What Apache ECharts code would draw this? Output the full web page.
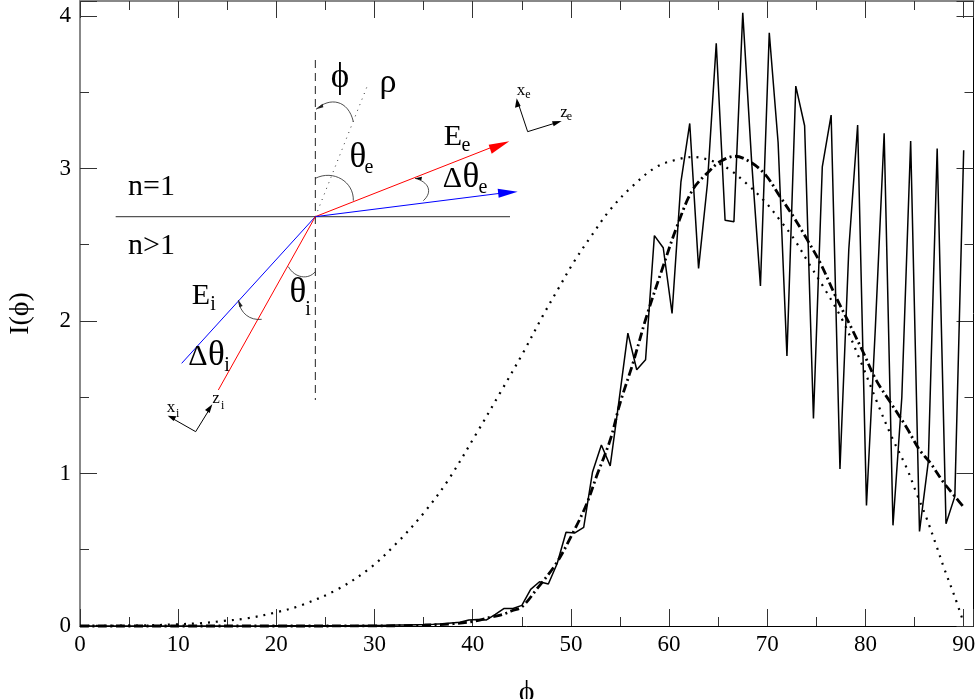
<!DOCTYPE html>
<html>
<head>
<meta charset="utf-8">
<style>html,body{margin:0;padding:0;background:#fff}#c{width:977px;height:699px}</style>
<script src="https://cdn.jsdelivr.net/npm/echarts@6/dist/echarts.min.js"></script>
</head>
<body>
<div id="c"></div>
<script>
const angles = [0,0.9,1.8,2.7,3.6,4.5,5.4,6.3,7.2,8.1,9,9.9,10.8,11.7,12.6,13.5,14.4,15.3,16.2,17.1,18,18.9,19.8,20.7,21.6,22.5,23.4,24.3,25.2,26.1,27,27.9,28.8,29.7,30.6,31.5,32.4,33.3,34.2,35.1,36,36.9,37.8,38.7,39.6,40.5,41.4,42.3,43.2,44.1,45,45.9,46.8,47.7,48.6,49.5,50.4,51.3,52.2,53.1,54,54.9,55.8,56.7,57.6,58.5,59.4,60.3,61.2,62.1,63,63.9,64.8,65.7,66.6,67.5,68.4,69.3,70.2,71.1,72,72.9,73.8,74.7,75.6,76.5,77.4,78.3,79.2,80.1,81,81.9,82.8,83.7,84.6,85.5,86.4,87.3,88.2,89.1,90];
const measured = [0,0,0,0,0,0,0,0,0,0,0,0,0,0,0,0,0,0,0,0,0,0,0.001,0.001,0.001,0.001,0.002,0.002,0.002,0.002,0.002,0.002,0.003,0.003,0.004,0.005,0.006,0.007,0.009,0.01,0.012,0.015,0.02,0.025,0.04,0.043,0.04,0.076,0.115,0.115,0.135,0.24,0.29,0.275,0.41,0.615,0.61,0.647,1.01,1.187,1.05,1.48,1.92,1.68,1.745,2.56,2.48,2.05,2.91,3.295,2.345,2.9,3.82,2.66,2.65,4.02,3.05,2.23,3.89,3.17,1.77,3.54,3.28,1.36,3.01,3.35,1.03,2.47,3.285,0.79,1.95,3.23,0.66,1.5,3.18,0.62,1.08,3.13,0.67,0.85,3.12];
const fitX = [0,10,20,30,35,38,40,42,43,44,45,46.5,48.5,50.2,51.6,52.6,54,55,56.3,57.7,59.4,60.8,62.4,64.2,65.2,66.7,68.2,69.8,71.3,72.7,74,75.4,76.9,78.6,79.8,81.1,82.5,84.2,85.5,86.6,87.9,89.1,90];
const fitY = [0,0,0,0.001,0.005,0.015,0.03,0.06,0.075,0.1,0.125,0.24,0.41,0.61,0.8,0.98,1.22,1.46,1.72,2.03,2.36,2.62,2.86,2.99,3.045,3.08,3.045,2.96,2.815,2.68,2.54,2.38,2.17,1.95,1.79,1.61,1.47,1.3,1.155,1.07,0.946,0.85,0.78];
const modelX = [0,6.8,9.85,12.2,14.6,17,20,22.4,26.1,29.5,32.4,35.06,37.5,40.4,42.8,45.2,47.1,48.7,50.3,52.1,54,56.2,58.7,60.9,62.4,64.8,66.2,67.9,69.8,71.3,72.7,74.3,75.7,77.7,79.6,81.1,82.6,84.2,85.2,86.2,87.2,88,89.1,90];
const modelY = [0,0.004,0.011,0.018,0.033,0.05,0.09,0.133,0.236,0.378,0.553,0.745,0.957,1.265,1.53,1.8,2.03,2.21,2.387,2.56,2.73,2.88,3.01,3.06,3.075,3.04,2.99,2.9,2.78,2.66,2.54,2.37,2.225,2,1.72,1.48,1.25,1.035,0.87,0.71,0.53,0.38,0.19,0.02];
const xTicks = {min:0,max:91,interval:10,minorCount:2};
const yTicks = {min:0,max:4.098,interval:1,minorCount:2};
const SERIF = '"Liberation Serif","Times New Roman",serif';
const zip = (a,b)=>a.map((v,i)=>[v,b[i]]);
const chart = echarts.init(document.getElementById('c'),null,{renderer:'canvas'});

// inset diagram: coordinates measured in page pixels
const P = (x,y)=>[100+x/3,50+y/3];
function seg(a,b,stroke,lineWidth,dash){const p=P(a[0],a[1]),q=P(b[0],b[1]);
  return {type:'line',silent:true,shape:{x1:p[0],y1:p[1],x2:q[0],y2:q[1]},style:{stroke,lineWidth,lineDash:dash||null,fill:null}};}
function poly(points,fill){return {type:'polygon',silent:true,shape:{points:points.map(p=>P(p[0],p[1]))},style:{fill,stroke:null}};}
function bez(a,c1,c2,b){const A=P(...a),C=P(...c1),D=P(...c2),B=P(...b);
  return {type:'bezierCurve',silent:true,shape:{x1:A[0],y1:A[1],cpx1:C[0],cpy1:C[1],cpx2:D[0],cpy2:D[1],x2:B[0],y2:B[1]},style:{stroke:'#222',lineWidth:0.8,fill:null}};}
function txt(s,x,y,size,align){return {type:'text',silent:true,x,y,style:{text:s,font:size+'px '+SERIF,fill:'#000',textAlign:align||'center',textVerticalAlign:'middle'}};}

const inset = [
  seg([47,500],[1230,500],'#555',1.2),
  seg([646,30],[646,1050],'#222',1,[8,5]),
  seg([646,500],[805,100],'#333',1,[1,5]),
  seg([646,500],[1180,290],'#f00',1),
  poly([[1228,274],[1166,284],[1175,311]],'#f00'),
  seg([646,500],[1200,430],'#00f',1),
  poly([[1253,425],[1193,416],[1196,443]],'#00f'),
  seg([646,500],[245,940],'#00f',1),
  seg([646,500],[355,1020],'#f00',1),
  bez([760,215],[745,150],[690,140],[648,178]),
  poly([[648,178],[668,161],[670,172]],'#222'),
  bez([760,452],[762,395],[700,358],[646,385]),
  bez([970,452],[1000,425],[985,395],[945,385]),
  poly([[945,385],[966,380],[964,391]],'#000'),
  bez([565,650],[585,685],[625,690],[646,665]),
  bez([485,808],[450,812],[420,790],[415,750]),
  poly([[415,750],[428,768],[418,772]],'#222'),
  seg([1283,245],[1253,155],'#000',1),
  poly([[1250,145],[1245,173],[1262,168]],'#000'),
  seg([1283,245],[1370,218],'#000',1),
  poly([[1385,213],[1356,214],[1361,229]],'#000'),
  seg([287,1145],[215,1104],'#000',1),
  poly([[203,1097],[229,1099],[221,1113]],'#000'),
  seg([287,1145],[332,1072],'#000',1),
  poly([[337,1063],[315,1080],[329,1089]],'#000'),
  txt('n=1',151.5,187,30),
  txt('n>1',151.5,246,30),
  txt('\u03d5',340,78,35),
  txt('\u03c1',388,83,34),
  txt('\u03b8',358,158,35),
  txt('e',369,168,20),
  txt('E',453,137,30),
  txt('e',466,146,20),
  txt('\u0394',452.5,179,30),
  txt('\u03b8',471,178,35),
  txt('e',483,188,20),
  txt('E',201,296,30),
  txt('i',213,305,20),
  txt('\u03b8',298,293,35),
  txt('i',308,310,20),
  txt('\u0394',198,357,30),
  txt('\u03b8',216.5,356,35),
  txt('i',227,366,20),
  txt('x',521,90.7,17),
  txt('e',528,95,12),
  txt('z',564,112.7,17),
  txt('e',569.5,116.7,12),
  txt('x',171,408,17),
  txt('i',177.7,414,12),
  txt('z',216,399,17),
  txt('i',222.7,406,12)
];

const axisCommon = {
  axisTick:{show:true,inside:true,length:17,lineStyle:{color:'#333',width:1}},
  minorTick:{show:true,splitNumber:xTicks.minorCount,length:9,lineStyle:{color:'#333',width:1}},
  splitLine:{show:false},minorSplitLine:{show:false}
};
const darkLine = {show:true,onZero:false,lineStyle:{color:'#000',width:1}};
const greyLine = {show:true,onZero:false,lineStyle:{color:'#888',width:2}};
const labelStyle = {fontFamily:SERIF,fontSize:23,color:'#000'};
chart.setOption({
  animation:false,
  backgroundColor:'#fff',
  grid:{left:80,top:1,right:3.5,bottom:73,containLabel:false,outerBoundsMode:'none'},
  xAxis:[
    {type:'value',position:'bottom',min:xTicks.min,max:xTicks.max,interval:xTicks.interval,...axisCommon,axisLine:darkLine,
      axisLabel:{...labelStyle,margin:7,showMaxLabel:false},
      name:'\u03d5',nameLocation:'middle',nameGap:52,nameTextStyle:{fontFamily:SERIF,fontSize:30,color:'#000'}},
    {type:'value',position:'top',min:xTicks.min,max:xTicks.max,interval:xTicks.interval,...axisCommon,axisLine:greyLine,axisLabel:{show:false}}
  ],
  yAxis:[
    {type:'value',position:'left',min:yTicks.min,max:yTicks.max,interval:yTicks.interval,...axisCommon,axisLine:greyLine,
      axisLabel:{...labelStyle,margin:9,showMaxLabel:false,formatter:v=>String(v)},
      name:'I(\u03d5)',nameLocation:'middle',nameGap:45,nameRotate:90,nameMoveOverlap:false,nameTextStyle:{fontFamily:SERIF,fontSize:28,color:'#000'}},
    {type:'value',position:'right',min:yTicks.min,max:yTicks.max,interval:yTicks.interval,...axisCommon,axisLine:darkLine,axisLabel:{show:false}}
  ],
  series:[
    {type:'line',name:'model',data:zip(modelX,modelY),smooth:0.35,showSymbol:false,clip:false,lineStyle:{color:'#000',width:2.2,type:[2,6]}},
    {type:'line',name:'fit',data:zip(fitX,fitY),smooth:0.35,showSymbol:false,clip:false,lineStyle:{color:'#000',width:2.8,type:[9,3.5,2,3.5]}},
    {type:'line',name:'measured',data:zip(angles,measured),showSymbol:false,clip:false,lineStyle:{color:'#000',width:1.5}}
  ],
  graphic:{elements:inset}
});
</script>
</body>
</html>
